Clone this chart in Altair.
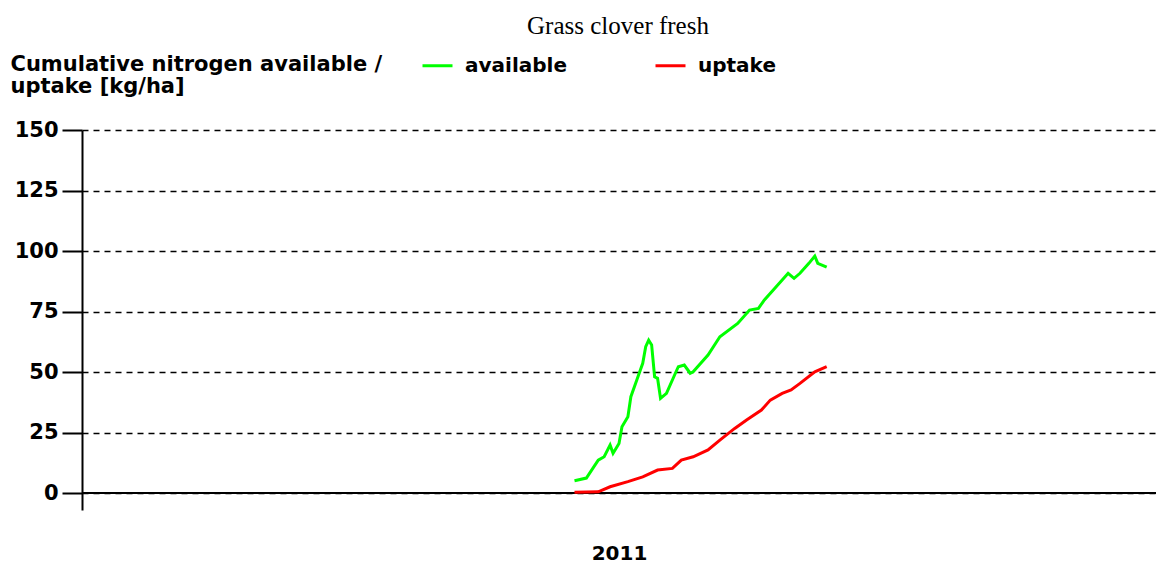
import altair as alt
import pandas as pd

# --- data (day of year 2011, kg N/ha) ---
avail_day = [166, 170, 174, 176, 178, 179, 181, 182, 184, 185,
             187, 189, 190, 191, 192, 193, 194, 195, 197, 200,
             201, 203, 205, 206, 211, 215, 221, 225, 228, 230,
             233, 236, 238, 240, 242, 245, 247, 248, 251]
avail_val = [5.1, 6.2, 13.6, 15.0, 19.8, 16.4, 20.5, 27.4, 31.5, 39.8,
             46.7, 53.6, 60.5, 63.2, 61.2, 48.0, 47.4, 39.1, 41.2, 49.5,
             52.2, 52.9, 49.5, 50.1, 57.0, 64.6, 70.1, 75.6, 76.3, 79.8,
             83.9, 88.0, 90.8, 88.7, 90.8, 94.9, 97.9, 94.9, 93.3]

uptake_day = [166, 174, 178, 184, 189, 194, 199, 202, 206, 211,
              215, 220, 224, 229, 232, 236, 239, 242, 247, 251]
uptake_val = [0.3, 0.5, 2.6, 4.7, 6.7, 9.5, 10.2, 13.6, 15.0, 17.8,
              21.9, 26.7, 30.2, 34.3, 38.4, 41.2, 42.6, 45.3, 50.1, 52.2]

series_names = ["available", "uptake"]
series_colors = ["#00ff00", "#ff0000"]
y_ticks = [0, 25, 50, 75, 100, 125, 150]
y_title = ["Cumulative nitrogen available /", "uptake [kg/ha]"]
x_title = "2011"
chart_title = "Grass clover fresh"

df = pd.concat([
    pd.DataFrame({"day": avail_day, "value": avail_val, "series": series_names[0], "order": range(len(avail_day))}),
    pd.DataFrame({"day": uptake_day, "value": uptake_val, "series": series_names[1], "order": range(len(uptake_day))}),
])
zero_df = pd.DataFrame({"y": [0]})

FONT = "DejaVu Sans"

y_enc_axis = alt.Axis(
    values=y_ticks, grid=True, gridDash=[6, 5], gridColor="black", gridWidth=1.6, gridOpacity=1,
    tickSize=20, tickColor="black", tickWidth=2,
    domainColor="black", domainWidth=2,
    labelFont=FONT, labelFontSize=21, labelFontWeight="bold", labelColor="black",
    labelPadding=4, labelBaseline="middle",
    title=y_title, titleAngle=0, titleAlign="left", titleBaseline="alphabetic",
    titleX=-72, titleY=-60, titleLineHeight=22,
    titleFont=FONT, titleFontSize=21, titleFontWeight="bold", titleColor="black",
)

x_enc_axis = alt.Axis(
    title=x_title, labels=False, ticks=False, domain=False, grid=False,
    titleFont=FONT, titleFontSize=20, titleFontWeight="bold", titleColor="black",
    titlePadding=33,
)

y_scale = alt.Scale(domain=[-7, 150], nice=False, zero=False)
x_scale = alt.Scale(domain=[0, 362], nice=False, zero=False)

zero_rule = alt.Chart(zero_df).mark_rule(color="black", strokeWidth=2).encode(
    y=alt.Y("y:Q", scale=y_scale, axis=y_enc_axis)
)

lines = alt.Chart(df).mark_line(strokeWidth=3).encode(
    x=alt.X("day:Q", scale=x_scale, axis=x_enc_axis),
    y=alt.Y("value:Q", scale=y_scale, axis=y_enc_axis),
    color=alt.Color(
        "series:N",
        scale=alt.Scale(domain=series_names, range=series_colors),
        legend=alt.Legend(
            title=None, orient="none", legendX=339, legendY=-81, direction="horizontal",
            symbolType="stroke", symbolSize=900, symbolStrokeWidth=3,
            labelFont=FONT, labelFontSize=20, labelFontWeight="bold", labelColor="black",
            labelOffset=11, columnPadding=82,
        ),
    ),
    order="order:Q",
)

chart = alt.layer(zero_rule, lines).properties(
    width=1074, height=380,
    autosize=alt.AutoSizeParams(type="none"),
    padding={"left": 74, "top": 122, "right": 0, "bottom": 54},
    title=alt.TitleParams(
        text=chart_title, font="Liberation Serif", fontSize=25, fontWeight="normal",
        color="black", frame="group", anchor="middle", baseline="alphabetic",
        offset=-10, dx=-1,
    ),
    background="white",
).configure_view(stroke=None)

chart.save("out.html", embed_options={"renderer": "svg", "actions": False})
